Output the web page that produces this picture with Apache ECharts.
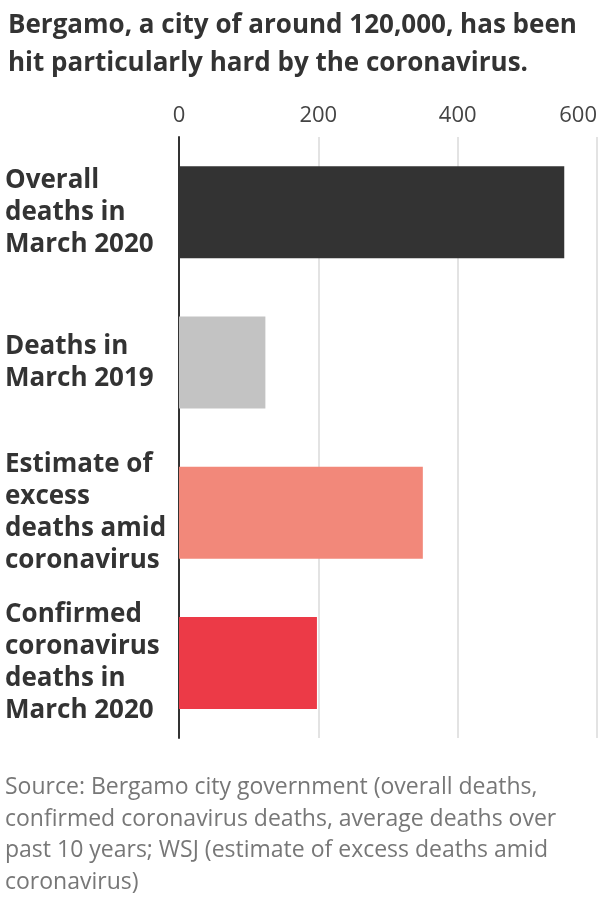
<!DOCTYPE html>
<html>
<head>
<meta charset="utf-8">
<script src="https://cdn.jsdelivr.net/npm/echarts@6/dist/echarts.min.js"></script>
<style>html,body{margin:0;padding:0;background:#fff}#c{width:600px;height:900px}</style>
</head>
<body>
<div id="c"></div>
<script>
const titleText = "Bergamo, a city of around 120,000, has been\nhit particularly hard by the coronavirus.";
const sourceText = "Source: Bergamo city government (overall deaths,\nconfirmed coronavirus deaths, average deaths over\npast 10 years; WSJ (estimate of excess deaths amid\ncoronavirus)";
const categories = [
  "Overall\ndeaths in\nMarch 2020",
  "Deaths in\nMarch 2019",
  "Estimate of\nexcess\ndeaths amid\ncoronavirus",
  "Confirmed\ncoronavirus\ndeaths in\nMarch 2020"
];
const values = [553, 124, 350, 198];
const barColors = ["#333333", "#c3c3c3", "#f2887a", "#ec3a47"];
const xTicks = [0, 200, 400, 600];

const chart = echarts.init(document.getElementById('c'), null, {renderer: 'canvas'});
const FONT = '"Open Sans", "Noto Sans", sans-serif';
chart.setOption({
  animation: false,
  backgroundColor: '#fff',
  title: [{
    text: titleText,
    left: 3, top: 2,
    textStyle: {fontFamily: FONT, fontSize: 26, fontWeight: 'bold', color: '#333', lineHeight: 38}
  }, {
    text: sourceText,
    left: 0, top: 767,
    textStyle: {fontFamily: FONT, fontSize: 23, fontWeight: 'normal', color: '#777', lineHeight: 31.5}
  }],
  grid: {left: 179, right: 1, top: 137, bottom: 162, containLabel: false},
  xAxis: {
    type: 'value', position: 'top', min: xTicks[0], max: xTicks[xTicks.length-1], interval: 200,
    axisLine: {show: false}, axisTick: {show: false},
    axisLabel: {fontFamily: FONT, fontSize: 22, color: '#444', margin: 10, alignMaxLabel: 'right'},
    splitLine: {show: true, lineStyle: {color: '#e3e3e3', width: 2}}
  },
  yAxis: {
    type: 'category', inverse: true, data: categories,
    axisLine: {show: true, lineStyle: {color: '#333', width: 2}},
    axisTick: {show: false},
    axisLabel: {fontFamily: FONT, fontSize: 26, fontWeight: 'bold', color: '#333', lineHeight: 32, align: 'left', margin: 174}
  },
  series: [{
    type: 'bar', barWidth: 92,
    data: values.map((v, i) => ({value: v, itemStyle: {color: barColors[i]}})),
    label: {show: false}
  }]
});
</script>
</body>
</html>
